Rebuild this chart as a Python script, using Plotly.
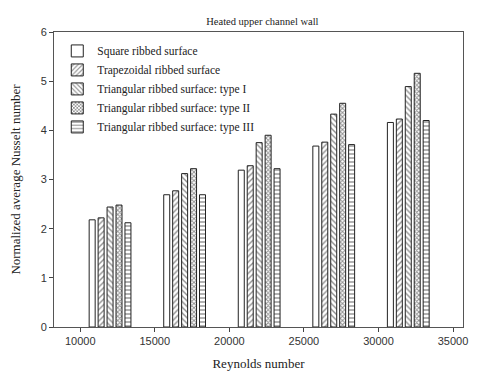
import plotly.graph_objects as go

reynolds = [12000, 17000, 22000, 27000, 32000]
square = [2.18, 2.69, 3.19, 3.68, 4.16]
trapezoidal = [2.22, 2.77, 3.28, 3.76, 4.23]
tri_type1 = [2.44, 3.12, 3.75, 4.33, 4.89]
tri_type2 = [2.48, 3.22, 3.90, 4.55, 5.16]
tri_type3 = [2.12, 2.69, 3.22, 3.71, 4.20]

series = [
    ("Square ribbed surface", square, ""),
    ("Trapezoidal ribbed surface", trapezoidal, "/"),
    ("Triangular ribbed surface: type I", tri_type1, "\\"),
    ("Triangular ribbed surface: type II", tri_type2, "x"),
    ("Triangular ribbed surface: type III", tri_type3, "-"),
]

fig = go.Figure()
for name, vals, shape in series:
    fig.add_trace(go.Bar(
        x=reynolds, y=vals, name=name,
        marker=dict(color="white", line=dict(color="#222", width=1),
                    pattern=dict(shape=shape, fgcolor="#222", bgcolor="white",
                                 size=3 if shape == "x" else 4,
                                 solidity=0.55 if shape == "x" else 0.35)),
    ))

serif = "Liberation Serif, Times New Roman"
axis_font = dict(family="Liberation Sans, Arial", size=11, color="#333")
fig.update_layout(
    width=480, height=371,
    margin=dict(l=46, r=25, t=24, b=52),
    paper_bgcolor="white", plot_bgcolor="white",
    barmode="group", bargap=0.4, bargroupgap=0.33,
    title=dict(text="Heated upper channel wall", x=0.53, y=0.975, xanchor="center",
               font=dict(family=serif, size=10.5, color="#222")),
    legend=dict(x=0.008, y=0.985, xanchor="left", yanchor="top",
                font=dict(family=serif, size=11.5, color="#222"),
                bgcolor="rgba(0,0,0,0)", tracegroupgap=0, itemwidth=30),
    showlegend=True,
)
fig.update_xaxes(range=[8240, 35670], tickvals=[10000, 15000, 20000, 25000, 30000, 35000],
                 tickformat="d", automargin=False,
                 ticks="outside", ticklen=4, showline=True, linecolor="#555", mirror=True,
                 showgrid=False, zeroline=False, tickfont=axis_font,
                 title=dict(text="Reynolds number", standoff=12,
                            font=dict(family=serif, size=13, color="#222")))
fig.update_yaxes(range=[0, 6], dtick=1, ticks="outside", ticklen=4, showline=True,
                 automargin=False,
                 linecolor="#555", mirror=True, showgrid=False, zeroline=False, tickfont=axis_font,
                 title=dict(text="Normalized average Nusselt number", standoff=17,
                            font=dict(family=serif, size=13, color="#222")))

fig.write_html("out.html")
